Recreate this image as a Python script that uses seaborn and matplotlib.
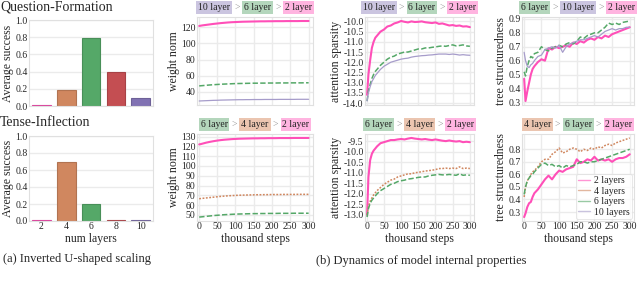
import numpy as np
import pandas as pd
import seaborn as sns
import matplotlib.pyplot as plt
from matplotlib.lines import Line2D
from matplotlib.colors import to_rgb
from matplotlib.offsetbox import TextArea, HPacker, AnchoredOffsetbox

sns.set_theme(style="whitegrid")
plt.rcParams["font.family"] = ["Liberation Serif", "DejaVu Serif"]
plt.rcParams["axes.edgecolor"] = "#e0e0e0"
plt.rcParams["grid.color"] = "#ebebeb"

# bar data (a)
layer_nums = ["2", "4", "6", "8", "10"]
qf_success = [0.012, 0.19, 0.79, 0.39, 0.09]
ti_success = [0.012, 0.69, 0.20, 0.012, 0.012]

# training steps (thousands) shared by all curves
steps = [1, 5, 10, 15, 20, 25, 30, 40, 50, 60, 70, 80, 90, 100, 110, 120, 130,
         140, 150, 160, 170, 180, 190, 200, 210, 220, 230, 240, 250, 260, 270,
         280, 290, 300]

# weight norm
qf_wn_2 = [121.5, 121.8, 122.2, 122.5, 122.8, 123.1, 123.4, 124.0, 124.5, 125.0, 125.4, 125.8, 126.1, 126.3, 126.5, 126.7, 126.8,
           126.9, 127.0, 127.1, 127.2, 127.2, 127.3, 127.3, 127.4, 127.4, 127.4, 127.5, 127.5, 127.5, 127.5, 127.6, 127.6, 127.6]
qf_wn_6 = [47.5, 47.6, 47.8, 48.0, 48.2, 48.4, 48.6, 48.9, 49.2, 49.5, 49.7, 49.9, 50.1, 50.3, 50.4, 50.5, 50.6,
           50.7, 50.8, 50.8, 50.9, 50.9, 51.0, 51.0, 51.0, 51.1, 51.1, 51.1, 51.2, 51.2, 51.2, 51.2, 51.3, 51.3]
qf_wn_10 = [28.8, 28.9, 29.0, 29.1, 29.2, 29.3, 29.4, 29.6, 29.7, 29.9, 30.0, 30.1, 30.2, 30.3, 30.4, 30.4, 30.5,
            30.5, 30.6, 30.6, 30.6, 30.7, 30.7, 30.7, 30.7, 30.8, 30.8, 30.8, 30.8, 30.8, 30.9, 30.9, 30.9, 30.9]
ti_wn_2 = [122.0, 122.3, 122.8, 123.3, 123.8, 124.2, 124.6, 125.3, 125.9, 126.4, 126.8, 127.1, 127.4, 127.6, 127.8, 127.9, 128.0,
           128.1, 128.2, 128.2, 128.3, 128.3, 128.4, 128.4, 128.4, 128.5, 128.5, 128.5, 128.5, 128.6, 128.6, 128.6, 128.6, 128.6]
ti_wn_4 = [66.5, 66.7, 66.9, 67.1, 67.3, 67.5, 67.7, 68.1, 68.5, 68.9, 69.2, 69.5, 69.7, 69.9, 70.1, 70.2, 70.3,
           70.4, 70.5, 70.6, 70.6, 70.7, 70.7, 70.8, 70.8, 70.8, 70.9, 70.9, 70.9, 70.9, 71.0, 71.0, 71.0, 71.0]
ti_wn_6 = [47.8, 47.9, 48.1, 48.3, 48.5, 48.7, 48.9, 49.3, 49.6, 49.9, 50.2, 50.4, 50.6, 50.8, 50.9, 51.0, 51.1,
           51.2, 51.3, 51.3, 51.4, 51.4, 51.5, 51.5, 51.5, 51.6, 51.6, 51.6, 51.6, 51.7, 51.7, 51.7, 51.7, 51.7]

# attention sparsity
qf_as_2 = [-13.6, -12.6, -11.9, -11.3, -11.0, -10.8, -10.7, -10.5, -10.4, -10.25, -10.2, -10.1, -10.05, -9.98, -10.02, -10.05, -10.0,
           -10.03, -10.02, -10.0, -10.04, -10.06, -10.08, -10.05, -10.12, -10.1, -10.15, -10.2, -10.18, -10.22, -10.2, -10.25, -10.24, -10.28]
qf_as_6 = [-13.9, -13.4, -13.1, -12.8, -12.6, -12.45, -12.35, -12.15, -12.0, -11.85, -11.75, -11.7, -11.6, -11.55, -11.5, -11.5, -11.45,
           -11.4, -11.35, -11.35, -11.3, -11.3, -11.27, -11.25, -11.22, -11.2, -11.22, -11.18, -11.15, -11.2, -11.18, -11.15, -11.2, -11.22]
qf_as_10 = [-13.9, -13.5, -13.2, -12.95, -12.8, -12.65, -12.55, -12.35, -12.2, -12.1, -12.0, -11.95, -11.9, -11.85, -11.82, -11.8, -11.75,
            -11.72, -11.7, -11.68, -11.67, -11.65, -11.64, -11.62, -11.6, -11.6, -11.6, -11.62, -11.6, -11.62, -11.65, -11.63, -11.65, -11.66]
ti_as_2 = [-13.0, -11.2, -10.4, -10.1, -9.95, -9.85, -9.75, -9.6, -9.55, -9.5, -9.45, -9.45, -9.42, -9.4, -9.42, -9.38, -9.35,
           -9.38, -9.4, -9.42, -9.4, -9.43, -9.45, -9.42, -9.45, -9.48, -9.5, -9.47, -9.5, -9.52, -9.5, -9.55, -9.53, -9.55]
ti_as_4 = [-13.0, -12.6, -12.35, -12.2, -12.05, -11.95, -11.85, -11.7, -11.55, -11.45, -11.35, -11.3, -11.2, -11.15, -11.1, -11.05, -11.05,
           -11.0, -10.98, -10.95, -10.92, -10.9, -10.88, -10.85, -10.8, -10.8, -10.78, -10.8, -10.78, -10.8, -10.72, -10.8, -10.78, -10.8]
ti_as_6 = [-13.1, -12.7, -12.45, -12.3, -12.2, -12.1, -12.0, -11.85, -11.75, -11.65, -11.55, -11.5, -11.42, -11.38, -11.35, -11.3, -11.28,
           -11.25, -11.22, -11.2, -11.2, -11.15, -11.12, -11.1, -11.08, -11.1, -11.1, -11.08, -11.1, -11.12, -11.05, -11.12, -11.1, -11.12]

# tree structuredness
qf_ts_2 = [0.47, 0.31, 0.38, 0.44, 0.50, 0.54, 0.56, 0.59, 0.61, 0.60, 0.69, 0.68, 0.70, 0.69, 0.70, 0.71, 0.70,
           0.73, 0.72, 0.74, 0.73, 0.75, 0.76, 0.75, 0.77, 0.76, 0.78, 0.77, 0.79, 0.80, 0.81, 0.82, 0.83, 0.84]
qf_ts_6 = [0.52, 0.49, 0.56, 0.60, 0.63, 0.62, 0.65, 0.66, 0.70, 0.68, 0.67, 0.69, 0.70, 0.71, 0.70, 0.72, 0.73,
           0.72, 0.74, 0.77, 0.76, 0.78, 0.79, 0.80, 0.80, 0.82, 0.84, 0.87, 0.86, 0.87, 0.86, 0.875, 0.88, 0.885]
qf_ts_10 = [0.66, 0.60, 0.56, 0.55, 0.57, 0.58, 0.60, 0.63, 0.64, 0.68, 0.69, 0.70, 0.69, 0.71, 0.66, 0.70, 0.72,
            0.73, 0.74, 0.75, 0.75, 0.76, 0.77, 0.78, 0.77, 0.79, 0.81, 0.82, 0.83, 0.82, 0.83, 0.83, 0.84, 0.84]
ti_ts_2 = [0.26, 0.29, 0.34, 0.37, 0.38, 0.42, 0.45, 0.48, 0.52, 0.56, 0.59, 0.56, 0.60, 0.63, 0.62, 0.64, 0.65,
           0.66, 0.72, 0.69, 0.70, 0.72, 0.71, 0.74, 0.71, 0.72, 0.71, 0.72, 0.70, 0.72, 0.73, 0.73, 0.74, 0.76]
ti_ts_4 = [0.42, 0.50, 0.55, 0.57, 0.60, 0.62, 0.63, 0.66, 0.70, 0.72, 0.72, 0.76, 0.78, 0.81, 0.77, 0.78, 0.80,
           0.81, 0.80, 0.78, 0.80, 0.79, 0.81, 0.80, 0.82, 0.81, 0.83, 0.84, 0.83, 0.85, 0.86, 0.87, 0.88, 0.89]
ti_ts_6 = [0.44, 0.50, 0.55, 0.57, 0.59, 0.60, 0.62, 0.65, 0.68, 0.69, 0.67, 0.68, 0.66, 0.67, 0.65, 0.67, 0.66,
           0.67, 0.68, 0.70, 0.70, 0.69, 0.70, 0.70, 0.71, 0.72, 0.73, 0.74, 0.75, 0.76, 0.77, 0.78, 0.79, 0.80]

bar_colors = ["#ff4fb8", "#d0875f", "#55a868", "#c44e52", "#8172b3"]
line_colors = {"2 layers": "#ff4fb8", "4 layers": "#d0875f", "6 layers": "#55a868", "10 layers": "#a69cca"}
line_dashes = {"2 layers": "", "4 layers": (1.2, 1.0), "6 layers": (3.5, 1.5), "10 layers": ""}
line_widths = {"2 layers": 1.5, "4 layers": 1.1, "6 layers": 1.1, "10 layers": 0.9}
box_colors = {"2": "#ffb4e0", "4": "#ebc5b0", "6": "#b4d6bc", "10": "#cbc5e0"}

fig = plt.figure(figsize=(6.4, 2.82), dpi=100)
W, H = 640, 282


def px_axes(left, right, top, bottom):
    return fig.add_axes([left / W, 1 - bottom / H, (right - left) / W, (bottom - top) / H])


def style_ax(ax):
    ax.tick_params(labelsize=7, pad=1, length=0)
    for sp in ax.spines.values():
        sp.set_linewidth(0.8)


def draw_bars(ax, vals, show_x):
    df = pd.DataFrame({"layers": layer_nums, "success": vals})
    sns.barplot(data=df, x="layers", y="success", hue="layers", palette=bar_colors,
                saturation=1, legend=False, width=0.75, linewidth=0.8, ax=ax)
    for patch, c in zip(ax.patches, bar_colors):
        patch.set_edgecolor(tuple(v * 0.85 for v in to_rgb(c)))
    ax.set_ylim(0, 1.0)
    ax.set_yticks([0, 0.2, 0.4, 0.6, 0.8, 1.0])
    ax.set_ylabel("Average success", fontsize=8.5, labelpad=1)
    style_ax(ax)
    if show_x:
        ax.set_xlabel("num layers", fontsize=8.5, labelpad=1)
    else:
        ax.set_xlabel("")
        ax.set_xticklabels([])


def draw_lines(ax, series, ylabel, show_x):
    rows = []
    for name, vals in series.items():
        for s, v in zip(steps, vals):
            rows.append((s, v, name))
    df = pd.DataFrame(rows, columns=["step", "value", "layers"])
    sns.lineplot(data=df, x="step", y="value", hue="layers", style="layers", size="layers",
                 palette=line_colors, dashes=line_dashes, sizes=line_widths, legend=False, ax=ax)
    ax.set_xlim(-5, 312)
    ax.set_xticks([0, 50, 100, 150, 200, 250, 300])
    ax.set_ylabel(ylabel, fontsize=8.5, labelpad=1)
    style_ax(ax)
    if show_x:
        ax.set_xlabel("thousand steps", fontsize=8.5, labelpad=1)
    else:
        ax.set_xlabel("")
        ax.set_xticklabels([])


def rank_box(ax, names):
    parts = []
    for i, n in enumerate(names):
        if i:
            parts.append(TextArea(">", textprops=dict(color="#999999", fontsize=7)))
        parts.append(TextArea(f"{n} layer", textprops=dict(
            fontsize=7, color="#222222",
            bbox=dict(boxstyle="square,pad=0.2", fc=box_colors[n], ec="none"))))
    pack = HPacker(children=parts, align="baseline", pad=0, sep=3)
    ab = AnchoredOffsetbox(loc="lower center", child=pack, pad=0, borderpad=0, frameon=False,
                           bbox_to_anchor=(0.5, 1.06), bbox_transform=ax.transAxes)
    ax.add_artist(ab)


# (a) bars
ax = px_axes(29, 153, 20, 106)
draw_bars(ax, qf_success, False)
ax = px_axes(29, 153, 136, 221)
draw_bars(ax, ti_success, True)

# (b) dynamics
ax = px_axes(197, 313, 17, 105)
draw_lines(ax, {"2 layers": qf_wn_2, "6 layers": qf_wn_6, "10 layers": qf_wn_10}, "weight norm", False)
ax.set_yticks([40, 60, 80, 100, 120])
rank_box(ax, ["10", "6", "2"])

ax = px_axes(197, 313, 134, 221)
draw_lines(ax, {"2 layers": ti_wn_2, "4 layers": ti_wn_4, "6 layers": ti_wn_6}, "weight norm", True)
ax.set_yticks([50, 60, 70, 80, 90, 100, 110, 120, 130])
rank_box(ax, ["6", "4", "2"])

ax = px_axes(365, 474, 17, 105)
draw_lines(ax, {"2 layers": qf_as_2, "6 layers": qf_as_6, "10 layers": qf_as_10}, "attention sparsity", False)
ax.set_yticks(np.arange(-14.0, -9.9, 0.5))
ax.yaxis.set_major_formatter(plt.FormatStrFormatter("%.1f"))
rank_box(ax, ["10", "6", "2"])

ax = px_axes(365, 474, 134, 221)
draw_lines(ax, {"2 layers": ti_as_2, "4 layers": ti_as_4, "6 layers": ti_as_6}, "attention sparsity", True)
ax.set_yticks(np.arange(-13.0, -9.4, 0.5))
ax.yaxis.set_major_formatter(plt.FormatStrFormatter("%.1f"))
rank_box(ax, ["6", "4", "2"])

ax = px_axes(522, 634, 17, 105)
draw_lines(ax, {"2 layers": qf_ts_2, "6 layers": qf_ts_6, "10 layers": qf_ts_10}, "tree structuredness", False)
ax.set_yticks([0.3, 0.4, 0.5, 0.6, 0.7, 0.8, 0.9])
rank_box(ax, ["6", "10", "2"])

ax = px_axes(522, 634, 134, 221)
draw_lines(ax, {"2 layers": ti_ts_2, "4 layers": ti_ts_4, "6 layers": ti_ts_6}, "tree structuredness", True)
ax.set_yticks([0.3, 0.4, 0.5, 0.6, 0.7, 0.8])
rank_box(ax, ["4", "6", "2"])
handles = [Line2D([0], [0], color=line_colors[k], lw=1.0, alpha=0.6) for k in line_colors]
leg = ax.legend(handles, list(line_colors), loc="lower right", fontsize=7, frameon=True,
                handlelength=1.2, borderpad=0.25, labelspacing=0.15, borderaxespad=0.2, handletextpad=0.4)
leg.get_frame().set_linewidth(0.6)
leg.get_frame().set_edgecolor("#dddddd")

fig.text(0.0, 1 - 7 / H, "Question-Formation", fontsize=10, va="center", ha="left")
fig.text(0.0, 1 - 123 / H, "Tense-Inflection", fontsize=10, va="center", ha="left")
fig.text(77 / W, 1 - 259 / H, "(a) Inverted U-shaped scaling", fontsize=9, ha="center", va="center")
fig.text(421 / W, 1 - 261 / H, "(b) Dynamics of model internal properties", fontsize=9, ha="center", va="center")

fig.savefig("out.png", dpi=100)
